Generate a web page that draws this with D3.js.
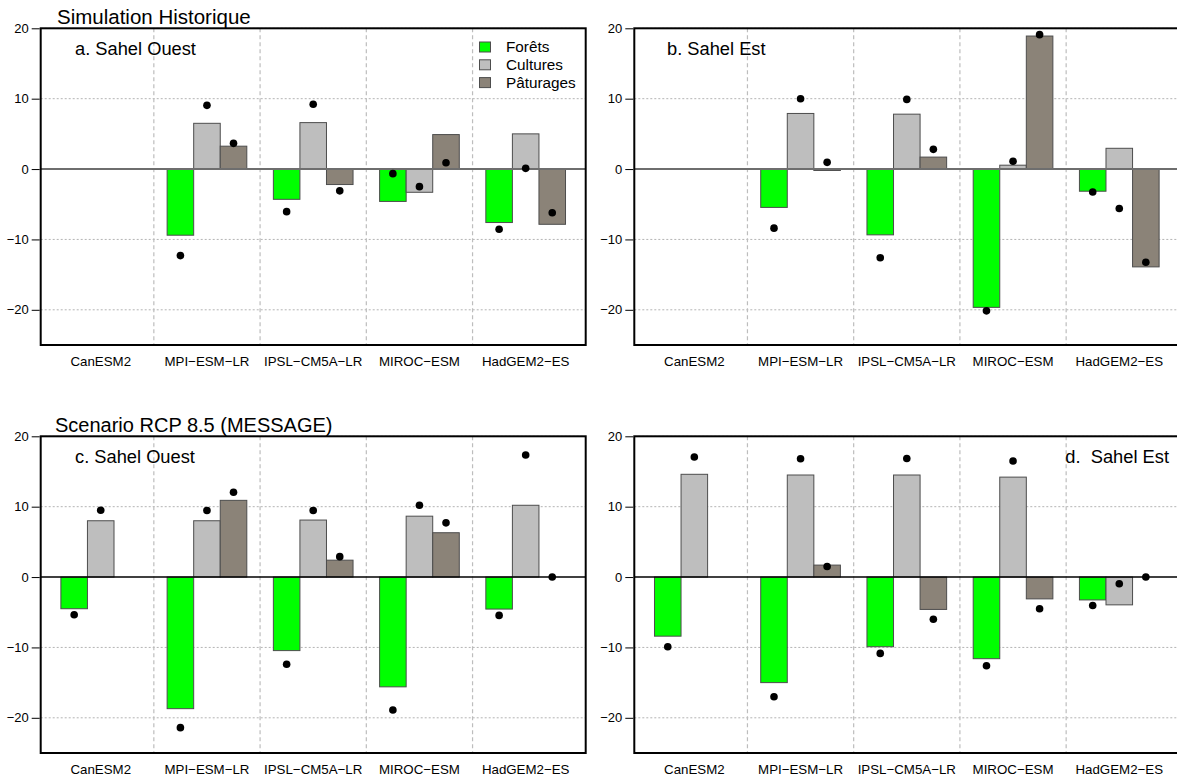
<!DOCTYPE html>
<html>
<head>
<meta charset="utf-8">
<script src="https://cdn.jsdelivr.net/npm/d3@7"></script>
<style>
  html, body { margin: 0; padding: 0; background: #fff; }
  svg { display: block; font-family: "Liberation Sans", Arial, Helvetica, sans-serif; }
  text { white-space: pre; }
</style>
</head>
<body>
<svg id="chart" width="1177" height="776"></svg>
<script>
// ---------- data ----------
const categories = ["CanESM2", "MPI\u2212ESM\u2212LR", "IPSL\u2212CM5A\u2212LR", "MIROC\u2212ESM", "HadGEM2\u2212ES"];
const seriesNames = ["Forêts", "Cultures", "Pâturages"];
const seriesColors = ["#00ff00", "#bebebe", "#8b8378"];
const yTicks = [-20, -10, 0, 10, 20];
const yTickLabels = ["\u221220", "\u221210", "0", "10", "20"];

// a. Sahel Ouest (historique)
const forets_a    = [null, -9.4, -4.3, -4.6, -7.6];
const cultures_a  = [null, 6.5, 6.6, -3.3, 5.0];
const paturages_a = [null, 3.25, -2.2, 4.9, -7.85];
const foretsDot_a    = [null, -12.3, -6.05, -0.65, -8.55];
const culturesDot_a  = [null, 9.05, 9.2, -2.5, 0.1];
const paturagesDot_a = [null, 3.65, -3.1, 0.9, -6.2];

// b. Sahel Est (historique)
const forets_b    = [null, -5.45, -9.35, -19.65, -3.15];
const cultures_b  = [null, 7.9, 7.8, 0.55, 2.95];
const paturages_b = [null, -0.2, 1.7, 18.9, -13.9];
const foretsDot_b    = [null, -8.4, -12.6, -20.15, -3.25];
const culturesDot_b  = [null, 10.0, 9.9, 1.1, -5.6];
const paturagesDot_b = [null, 0.95, 2.8, 19.1, -13.25];

// c. Sahel Ouest (RCP 8.5)
const forets_c    = [-4.5, -18.7, -10.45, -15.6, -4.55];
const cultures_c  = [8.0, 8.0, 8.1, 8.65, 10.2];
const paturages_c = [null, 10.9, 2.4, 6.3, 0];
const foretsDot_c    = [-5.35, -21.4, -12.4, -18.9, -5.45];
const culturesDot_c  = [9.5, 9.45, 9.45, 10.2, 17.35];
const paturagesDot_c = [null, 12.05, 2.9, 7.7, 0];

// d. Sahel Est (RCP 8.5)
const forets_d    = [-8.4, -15.0, -9.9, -11.6, -3.25];
const cultures_d  = [14.6, 14.5, 14.5, 14.2, -3.95];
const paturages_d = [null, 1.7, -4.6, -3.1, 0];
const foretsDot_d    = [-9.9, -17.0, -10.85, -12.6, -4.05];
const culturesDot_d  = [17.05, 16.8, 16.85, 16.5, -0.95];
const paturagesDot_d = [null, 1.5, -6.0, -4.5, 0];

// ---------- layout ----------
const svg = d3.select("#chart");
const panelW = 545, panelH = 316.7;

const panels = [
  { x: 40.7,  y: 28.3,  label: "a. Sahel Ouest", lx: 75,  anchor: "start", zero: "#6e6e6e", zw: 2,
    bars: [forets_a, cultures_a, paturages_a], dots: [foretsDot_a, culturesDot_a, paturagesDot_a], legend: true },
  { x: 634.3, y: 28.3,  label: "b. Sahel Est",   lx: 667, anchor: "start", zero: "#6e6e6e", zw: 2,
    bars: [forets_b, cultures_b, paturages_b], dots: [foretsDot_b, culturesDot_b, paturagesDot_b] },
  { x: 40.7,  y: 436.3, label: "c. Sahel Ouest", lx: 75,  anchor: "start", zero: "#000", zw: 1.4,
    bars: [forets_c, cultures_c, paturages_c], dots: [foretsDot_c, culturesDot_c, paturagesDot_c] },
  { x: 634.3, y: 436.3, label: "d.  Sahel Est",  lx: 1169, anchor: "end", zero: "#000", zw: 1.4,
    bars: [forets_d, cultures_d, paturages_d], dots: [foretsDot_d, culturesDot_d, paturagesDot_d] }
];

panels.forEach(p => {
  const g = svg.append("g");
  const x0 = p.x, x1 = p.x + panelW, y0 = p.y, y1 = p.y + panelH;

  // R-barplot-like unit scale: bars occupy units [1,20], xlim extended 4%
  const u = d3.scaleLinear().domain([0.24, 20.76]).range([x0, x1]);
  const xBand = d3.scaleBand().domain(categories)
    .range([u(0.5), u(20.5)]).paddingInner(0.25).paddingOuter(0.125);
  const xSub = d3.scaleBand().domain(d3.range(3)).range([0, xBand.bandwidth()]).padding(0);
  const y = d3.scaleLinear().domain([-25, 20]).range([y1, y0]);

  // horizontal dotted grid
  g.selectAll("line.hgrid").data([-20, -10, 10, 20]).join("line")
    .attr("x1", x0).attr("x2", x1)
    .attr("y1", d => y(d)).attr("y2", d => y(d))
    .attr("stroke", "#b4b4b4").attr("stroke-width", 1).attr("stroke-dasharray", "2,2");

  // vertical dashed separators
  const seps = categories.slice(1).map(c => xBand(c) - xBand.step() * 0.125);
  g.selectAll("line.vgrid").data(seps).join("line")
    .attr("x1", d => d).attr("x2", d => d)
    .attr("y1", y0).attr("y2", y1)
    .attr("stroke", "#bdbdbd").attr("stroke-width", 1.2).attr("stroke-dasharray", "4,3");

  // bars
  p.bars.forEach((vals, si) => {
    g.selectAll(null).data(vals.map((v, i) => ({ v, c: categories[i] })).filter(d => d.v !== null))
      .join("rect")
      .attr("x", d => xBand(d.c) + xSub(si))
      .attr("width", xSub.bandwidth())
      .attr("y", d => y(Math.max(0, d.v)))
      .attr("height", d => Math.abs(y(d.v) - y(0)))
      .attr("fill", seriesColors[si])
      .attr("stroke", "#4d4d4d").attr("stroke-width", 1);
  });

  // zero line
  g.append("line").attr("x1", x0).attr("x2", x1).attr("y1", y(0)).attr("y2", y(0))
    .attr("stroke", p.zero).attr("stroke-width", p.zw);

  // dots
  p.dots.forEach((vals, si) => {
    g.selectAll(null).data(vals.map((v, i) => ({ v, c: categories[i] })).filter(d => d.v !== null))
      .join("circle")
      .attr("cx", d => xBand(d.c) + xSub(si) + xSub.bandwidth() / 2)
      .attr("cy", d => y(d.v))
      .attr("r", 3.8)
      .attr("fill", "#000");
  });

  // frame
  g.append("rect").attr("x", x0).attr("y", y0).attr("width", panelW).attr("height", panelH)
    .attr("fill", "none").attr("stroke", "#000").attr("stroke-width", 2);

  // y axis
  const yAxis = d3.axisLeft(y).tickValues(yTicks).tickSize(8).tickPadding(3)
    .tickFormat((d, i) => yTickLabels[i]);
  const ya = g.append("g").attr("transform", `translate(${x0 - 1},0)`).call(yAxis);
  ya.select(".domain").remove();
  ya.selectAll("line").attr("stroke", "#000").attr("stroke-width", 1);
  ya.selectAll("text").attr("font-size", 13).attr("fill", "#000")
    .attr("font-family", "'Liberation Sans', Arial, sans-serif");

  // x axis labels
  const xAxis = d3.axisBottom(xBand).tickSize(0).tickPadding(12);
  const xa = g.append("g").attr("transform", `translate(0,${y1})`).call(xAxis);
  xa.select(".domain").remove();
  xa.selectAll("text").attr("font-size", 13.3).attr("fill", "#000")
    .attr("font-family", "'Liberation Sans', Arial, sans-serif");

  // panel label
  g.append("text").attr("x", p.lx).attr("y", y0 + 27).attr("text-anchor", p.anchor)
    .attr("font-size", 18.3).attr("fill", "#000").text(p.label);

  // legend
  if (p.legend) {
    const lg = g.append("g");
    seriesNames.forEach((s, i) => {
      const cy = 47 + i * 17.8;
      lg.append("rect").attr("x", 479.5).attr("y", cy - 5).attr("width", 11).attr("height", 10)
        .attr("fill", seriesColors[i]).attr("stroke", "#4d4d4d").attr("stroke-width", 1);
      lg.append("text").attr("x", 506).attr("y", cy + 5.3).attr("font-size", 15.3)
        .attr("fill", "#000").text(s);
    });
  }
});

// row titles
svg.append("text").attr("x", 57).attr("y", 23.5).attr("font-size", 20.5).attr("fill", "#000")
  .text("Simulation Historique");
svg.append("text").attr("x", 55).attr("y", 432).attr("font-size", 20).attr("fill", "#000")
  .text("Scenario RCP 8.5 (MESSAGE)");
</script>
</body>
</html>
